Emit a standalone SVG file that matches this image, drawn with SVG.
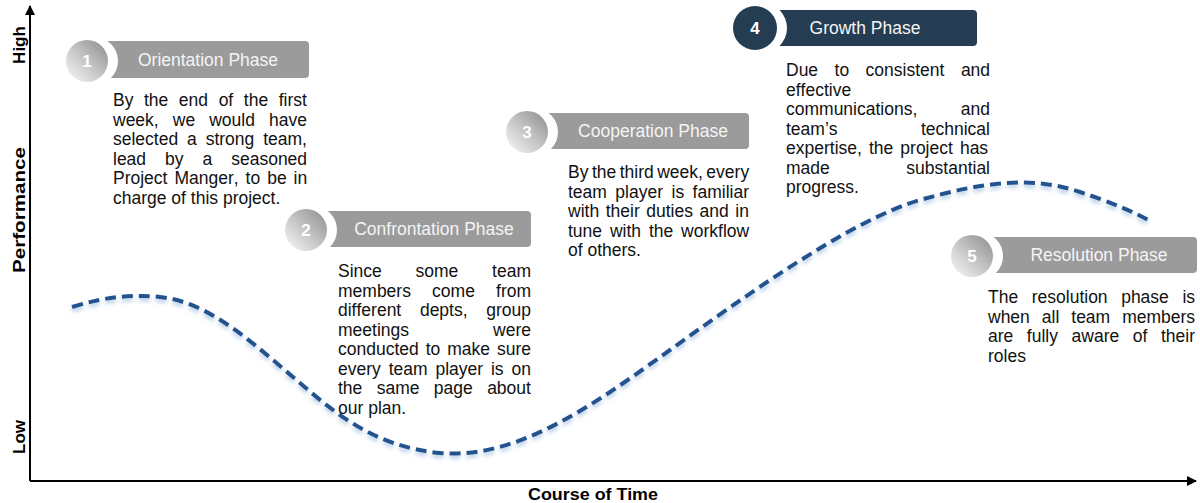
<svg xmlns="http://www.w3.org/2000/svg" width="1200" height="503" viewBox="0 0 1200 503">
<style>
.body{font-family:"Liberation Sans",Arial,sans-serif;font-size:17.5px;fill:#111;font-kerning:none}
.hdr{font-family:"Liberation Sans",Arial,sans-serif;font-size:17.5px;fill:#f4f4f4;text-anchor:middle}
.num{font-family:"Liberation Sans",Arial,sans-serif;font-size:17px;font-weight:bold;fill:#fff;text-anchor:middle}
.ax{font-family:"Liberation Sans",Arial,sans-serif;font-size:17px;font-weight:bold;fill:#000;text-anchor:middle}
.bar{fill:#9b9b9b}
.bar4{fill:#253d52}
.cut{fill:#fff}
.ball{fill:url(#silver)}
.axis{stroke:#000;stroke-width:2;fill:none}
.curve{fill:none;stroke:#23528f;stroke-width:4;stroke-dasharray:11 6;filter:url(#glow)}
</style>
<defs>
<linearGradient id="silver" x1="1" y1="0" x2="0" y2="1">
<stop offset="0" stop-color="#8a8a8a"/>
<stop offset="0.5" stop-color="#c4c4c4"/>
<stop offset="1" stop-color="#fafafa"/>
</linearGradient>
<marker id="arr" viewBox="0 0 10 10" refX="9" refY="5" markerWidth="5" markerHeight="5" orient="auto" markerUnits="strokeWidth">
<path d="M0,0 L10,5 L0,10 Z" fill="#000"/>
</marker>
<filter id="glow" x="-5%" y="-20%" width="110%" height="140%">
<feDropShadow dx="0" dy="3" stdDeviation="2" flood-color="#8fb4dc" flood-opacity="0.7"/>
</filter>
</defs>

<g id="connectors">
<path class="axis" d="M30,481 L30,6" marker-end="url(#arr)"/>
<path class="axis" d="M30,481 L1196,481" marker-end="url(#arr)"/>
<path class="curve" d="M72,307 C105,297 130,294 160,297 C210,302 255,345 300,383 C335,413 375,447 440,453 C520,460 600,400 670,350 C740,300 850,220 920,200 C980,183 1030,175 1080,192 C1110,202 1130,210 1150,221"/>
</g>

<g id="axis-labels">
<text class="ax" transform="translate(25,45) rotate(-90)">High</text>
<text class="ax" transform="translate(25,210) rotate(-90)" textLength="126" lengthAdjust="spacingAndGlyphs">Performance</text>
<text class="ax" transform="translate(25,437) rotate(-90)">Low</text>
<text class="ax" x="593" y="500" font-size="18" textLength="130" lengthAdjust="spacingAndGlyphs">Course of Time</text>
</g>

<g id="phase1">
<rect class="bar" x="100" y="41" width="209" height="37" rx="4"/>
<circle class="cut" cx="94" cy="61" r="24"/>
<circle class="ball" cx="87" cy="61" r="21"/>
<text class="num" x="87" y="67">1</text>
<text class="hdr" x="208" y="66">Orientation Phase</text>
<text class="body" x="113" y="106" word-spacing="5.7">By the end of the first</text>
<text class="body" x="113" y="125.5" word-spacing="9.2">week, we would have</text>
<text class="body" x="113" y="145" word-spacing="4">selected a strong team,</text>
<text class="body" x="113" y="164.5" word-spacing="14.1">lead by a seasoned</text>
<text class="body" x="113" y="184" word-spacing="2.1">Project Manger, to be in</text>
<text class="body" x="113" y="203.5">charge of this project.</text>
</g>

<g id="phase2">
<rect class="bar" x="320" y="211" width="211" height="36" rx="4"/>
<circle class="cut" cx="313" cy="230" r="24"/>
<circle class="ball" cx="306" cy="230" r="21"/>
<text class="num" x="306" y="236">2</text>
<text class="hdr" x="434" y="235">Confrontation Phase</text>
<text class="body" x="338" y="277" word-spacing="28.9">Since some team</text>
<text class="body" x="338" y="296.5" word-spacing="16.3">members come from</text>
<text class="body" x="338" y="316" word-spacing="13.8">different depts, group</text>
<text class="body" x="338" y="335.5" word-spacing="79.2">meetings were</text>
<text class="body" x="338" y="355" word-spacing="2.1">conducted to make sure</text>
<text class="body" x="338" y="374.5" word-spacing="3">every team player is on</text>
<text class="body" x="338" y="394" word-spacing="9.5">the same page about</text>
<text class="body" x="338" y="413.5">our plan.</text>
</g>

<g id="phase3">
<rect class="bar" x="540" y="113" width="209" height="36" rx="4"/>
<circle class="cut" cx="534" cy="132" r="24"/>
<circle class="ball" cx="527" cy="132" r="21"/>
<text class="num" x="527" y="138">3</text>
<text class="hdr" x="653" y="137">Cooperation Phase</text>
<text class="body" x="568" y="178" word-spacing="-1.4">By the third week, every</text>
<text class="body" x="568" y="197.5" word-spacing="3.6">team player is familiar</text>
<text class="body" x="568" y="217" word-spacing="1.7">with their duties and in</text>
<text class="body" x="568" y="236.5" word-spacing="3">tune with the workflow</text>
<text class="body" x="568" y="256">of others.</text>
</g>

<g id="phase4">
<rect class="bar4" x="768" y="10" width="209" height="36" rx="4"/>
<circle class="cut" cx="762" cy="28" r="25"/>
<circle fill="#253d52" cx="755" cy="28" r="22"/>
<text class="num" x="755" y="34">4</text>
<text class="hdr" x="865" y="34">Growth Phase</text>
<text class="body" x="786" y="76" word-spacing="11.6">Due to consistent and</text>
<text class="body" x="786" y="95.5">effective</text>
<text class="body" x="786" y="115" word-spacing="38.7">communications, and</text>
<text class="body" x="786" y="134.5" word-spacing="78.5">team’s technical</text>
<text class="body" x="786" y="154" word-spacing="2.2">expertise, the project has</text>
<text class="body" x="786" y="173.5" word-spacing="71.7">made substantial</text>
<text class="body" x="786" y="193">progress.</text>
</g>

<g id="phase5">
<rect class="bar" x="985" y="237" width="212" height="36" rx="4"/>
<circle class="cut" cx="979" cy="256" r="24"/>
<circle class="ball" cx="972" cy="256" r="21"/>
<text class="num" x="972" y="262">5</text>
<text class="hdr" x="1099" y="261">Resolution Phase</text>
<text class="body" x="988" y="303" word-spacing="8.7">The resolution phase is</text>
<text class="body" x="988" y="322.5" word-spacing="7.1">when all team members</text>
<text class="body" x="988" y="342" word-spacing="8.7">are fully aware of their</text>
<text class="body" x="988" y="361.5">roles</text>
</g>
</svg>
